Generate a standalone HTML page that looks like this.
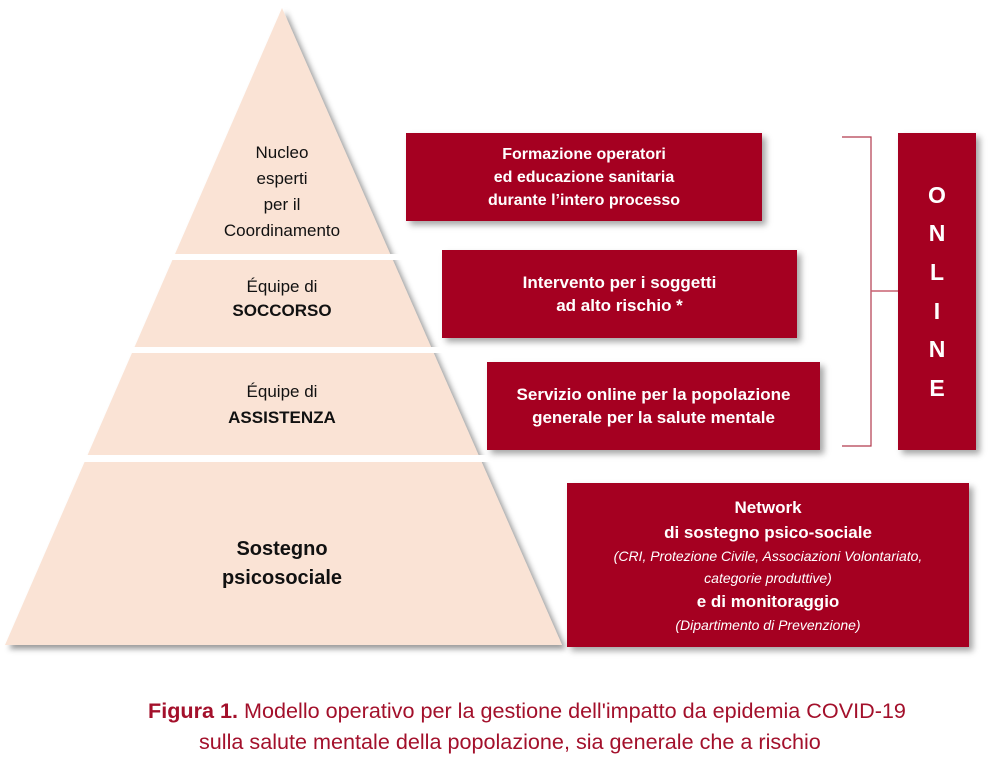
<!DOCTYPE html>
<html><head><meta charset="utf-8"><style>
body{margin:0;width:1003px;height:763px;background:#fff;position:relative;font-family:"Liberation Sans",Arial,sans-serif;overflow:hidden}
.box{position:absolute;background:#a50021;color:#fff;font-weight:bold;text-align:center;display:flex;flex-direction:column;justify-content:center;font-size:17px;line-height:23px;box-shadow:4px 4px 6px rgba(0,0,0,.35)}
.t{position:absolute;text-align:center;color:#111;font-size:16px;line-height:25px}
.cap{position:absolute;color:#a3102b;font-size:21.6px;white-space:nowrap}
</style></head><body>
<svg width="1003" height="763" style="position:absolute;left:0;top:0">
<defs><filter id="s" x="-10%" y="-10%" width="120%" height="120%"><feDropShadow dx="4" dy="4" stdDeviation="3" flood-color="#000" flood-opacity=".4"/></filter></defs>
<polygon points="282,8 562,645 5,645" fill="#fae3d5" filter="url(#s)"/>
<rect x="0" y="254" width="600" height="6" fill="#fff"/>
<rect x="0" y="347" width="600" height="6" fill="#fff"/>
<rect x="0" y="455" width="600" height="7" fill="#fff"/>
<polyline points="842,137 871,137 871,446 842,446" fill="none" stroke="#b23a4d" stroke-width="1.2"/>
<line x1="871" y1="291" x2="898" y2="291" stroke="#c86070" stroke-width="1.5"/>
</svg>
<div class="t" style="left:182px;top:140px;width:200px;font-size:17px;line-height:26px">Nucleo<br>esperti<br>per il<br>Coordinamento</div>
<div class="t" style="left:182px;top:275px;width:200px;line-height:24px;font-size:17px">Équipe di<br><b>SOCCORSO</b></div>
<div class="t" style="left:182px;top:379px;width:200px;line-height:26px;font-size:17px">Équipe di<br><b>ASSISTENZA</b></div>
<div class="t" style="left:182px;top:535px;width:200px;font-size:20px;line-height:29px"><b>Sostegno<br>psicosociale</b></div>
<div class="box" style="left:406px;top:133px;width:356px;height:88px;font-size:16px">Formazione operatori<br>ed educazione sanitaria<br>durante l’intero processo</div>
<div class="box" style="left:442px;top:250px;width:355px;height:88px">Intervento per i soggetti<br>ad alto rischio *</div>
<div class="box" style="left:487px;top:362px;width:333px;height:88px">Servizio online per la popolazione<br>generale per la salute mentale</div>
<div class="box" style="left:567px;top:483px;width:402px;height:164px;line-height:25px">Network<br>di sostegno psico-sociale<br><span style="font-weight:normal;font-style:italic;font-size:14px;line-height:22px">(CRI, Protezione Civile, Associazioni Volontariato,<br>categorie produttive)</span>e di monitoraggio<br><span style="font-weight:normal;font-style:italic;font-size:14px;line-height:22px">(Dipartimento di Prevenzione)</span></div>
<div class="box" style="left:898px;top:133px;width:78px;height:317px;font-size:23px;line-height:38.6px">O<br>N<br>L<br>I<br>N<br>E</div>
<div class="cap" style="left:148px;top:698px"><b>Figura 1.</b> Modello operativo per la gestione dell'impatto da epidemia COVID-19</div>
<div class="cap" style="left:199px;top:729px">sulla salute mentale della popolazione, sia generale che a rischio</div>
</body></html>
